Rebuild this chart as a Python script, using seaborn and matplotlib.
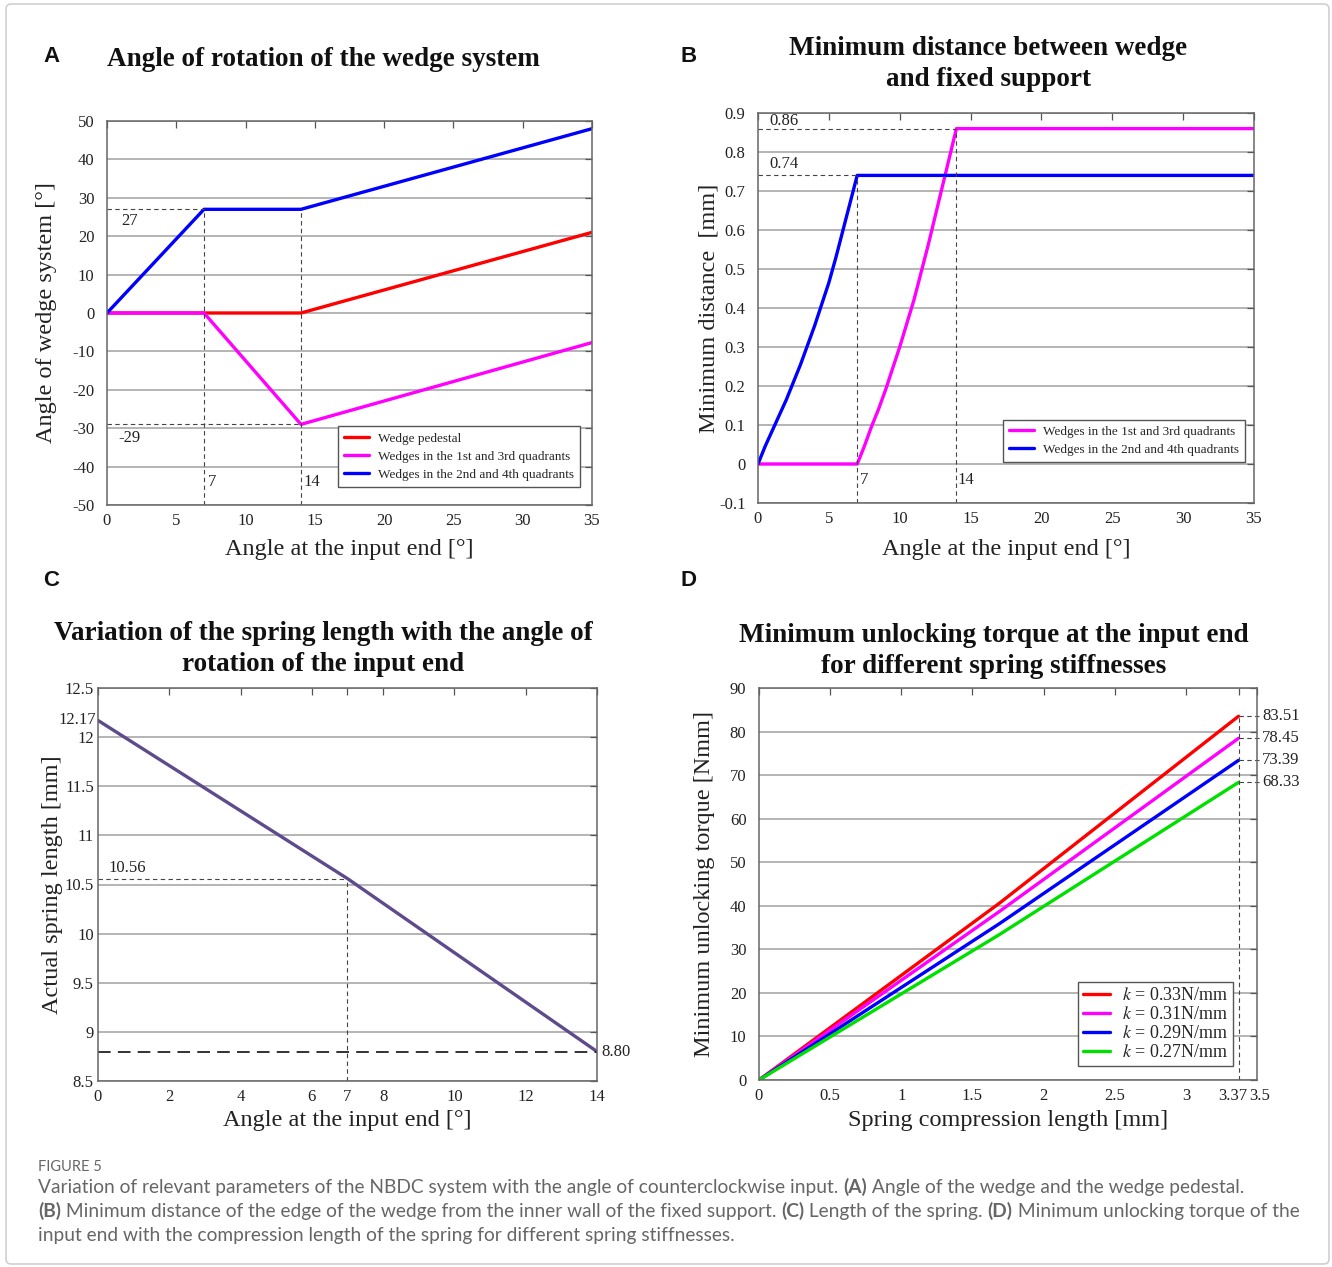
import numpy as np
import pandas as pd
import matplotlib
matplotlib.use("Agg")
import matplotlib.pyplot as plt
import seaborn as sns
from matplotlib.patches import FancyBboxPatch

# ---------------- data ----------------
a_x = [0, 7, 14, 35]
a_pedestal = [0, 0, 0, 21]
a_q13 = [0, 0, -29, -7.7]
a_q24 = [0, 27, 27, 48]
a_names = ["Wedge pedestal", "Wedges in the 1st and 3rd quadrants",
           "Wedges in the 2nd and 4th quadrants"]

b_q13_x = [0, 7, 7.5, 8, 8.5, 9, 9.5, 10, 10.5, 11, 11.5, 12, 12.5, 13, 13.5, 14, 35]
b_q13_y = [0, 0, 0.045, 0.095, 0.14, 0.19, 0.245, 0.30, 0.36, 0.42, 0.49, 0.56, 0.635,
           0.71, 0.785, 0.86, 0.86]
b_q24_x = [0, 0.5, 1, 1.5, 2, 2.5, 3, 3.5, 4, 4.5, 5, 5.5, 6, 6.5, 7, 35]
b_q24_y = [0, 0.045, 0.085, 0.125, 0.165, 0.21, 0.255, 0.305, 0.355, 0.41, 0.465, 0.53,
           0.60, 0.67, 0.74, 0.74]
b_names = ["Wedges in the 1st and 3rd quadrants", "Wedges in the 2nd and 4th quadrants"]

c_x = [0, 7, 14]
c_len = [12.17, 10.56, 8.80]

d_x = [0, 1.69, 3.37]
d_k033 = [0, 40.6, 83.51]
d_k031 = [0, 38.7, 78.45]
d_k029 = [0, 35.9, 73.39]
d_k027 = [0, 33.4, 68.33]
d_names = ["$k$ = 0.33N/mm", "$k$ = 0.31N/mm", "$k$ = 0.29N/mm", "$k$ = 0.27N/mm"]
d_end_labels = ["83.51", "78.45", "73.39", "68.33"]

# ---------------- style ----------------
sns.set_theme(style="white")
plt.rcParams["font.family"] = ["Liberation Serif", "DejaVu Serif"]
plt.rcParams["mathtext.fontset"] = "stix"
plt.rcParams["axes.unicode_minus"] = False

W, H = 1332, 1267
fig = plt.figure(figsize=(W / 100, H / 100), dpi=100)
fig.patch.set_facecolor("white")


def fx(px):
    return px / W


def fy(py):
    return 1 - py / H


def make_ax(l, t, r, b):
    return fig.add_axes([fx(l), fy(b), fx(r) - fx(l), (b - t) / H])


def style(ax, xlim, ylim, xticks, yticks, xtl=None, ytl=None, ypad=9):
    ax.set_xlim(*xlim)
    ax.set_ylim(*ylim)
    ax.set_xticks(xticks)
    ax.set_yticks(yticks)
    if xtl is not None:
        ax.set_xticklabels(xtl)
    if ytl is not None:
        ax.set_yticklabels(ytl)
    ax.tick_params(direction="in", top=True, right=True, length=5, width=0.9,
                   color="#555555", labelcolor="#222222", labelsize=12)
    ax.tick_params(axis="x", pad=6)
    ax.tick_params(axis="y", pad=ypad)
    ax.yaxis.grid(True, color="#a0a0a0", lw=1.1)
    ax.xaxis.grid(False)
    ax.set_axisbelow(True)
    for s in ax.spines.values():
        s.set_color("#666666")
        s.set_linewidth(1.1)
    ax.set_facecolor("white")


def labels(ax, xl, yl, xcoord, ycoord):
    ax.set_xlabel(xl, fontsize=lab_fs, color="#222222")
    ax.set_ylabel(yl, fontsize=lab_fs, color="#222222")
    ax.xaxis.set_label_coords(0.5, xcoord)
    ax.yaxis.set_label_coords(ycoord, 0.5)


def legend(ax, right, bottom, fs, spacing, bpad=0.45, hlen=1.9):
    h, l = ax.get_legend_handles_labels()
    lg = ax.legend(h, l, loc="lower right", bbox_to_anchor=(right, bottom), fontsize=fs,
                   frameon=True, fancybox=False, edgecolor=leg_frame, framealpha=1,
                   borderaxespad=0, borderpad=bpad, labelspacing=spacing,
                   handlelength=hlen, handletextpad=0.7)
    lg.get_frame().set_linewidth(1.0)


dash_kw = dict(color="#444444", lw=0.8, ls=(0, (4, 3)))
ann_kw = dict(fontsize=12, color="#222222")
lab_fs = 17.5
title_fs = 19.5
leg_frame = "#555555"
lw_main = 2.4

# ---------------- panel A ----------------
axA = make_ax(107, 121, 592, 505)
dfA = pd.DataFrame({
    "x": a_x * 3,
    "y": a_pedestal + a_q13 + a_q24,
    "series": [a_names[0]] * 4 + [a_names[1]] * 4 + [a_names[2]] * 4,
})
sns.lineplot(data=dfA, x="x", y="y", hue="series", hue_order=a_names,
             palette=["#ff0000", "#ff00ff", "#0000ff"], estimator=None, sort=False,
             lw=lw_main, ax=axA)
style(axA, (0, 35), (-50, 50), range(0, 36, 5), range(-50, 51, 10))
axA.plot([0, 7], [27, 27], **dash_kw)
axA.plot([7, 7], [-50, 27], **dash_kw)
axA.plot([14, 14], [-50, 27], **dash_kw)
axA.plot([0, 14], [-29, -29], **dash_kw)
axA.text(1.0, 24.0, "27", ha="left", va="center", **ann_kw)
axA.text(0.8, -32.5, "-29", ha="left", va="center", **ann_kw)
axA.text(7.3, -44, "7", ha="left", va="center", **ann_kw)
axA.text(14.2, -44, "14", ha="left", va="center", **ann_kw)
legend(axA, 0.975, 0.047, 9.5, 0.45)
labels(axA, "Angle at the input end [°]", "Angle of wedge system [°]", -0.088, -0.103)

# ---------------- panel B ----------------
axB = make_ax(758, 113, 1254, 503)
dfB = pd.DataFrame({
    "x": b_q13_x + b_q24_x,
    "y": b_q13_y + b_q24_y,
    "series": [b_names[0]] * len(b_q13_x) + [b_names[1]] * len(b_q24_x),
})
sns.lineplot(data=dfB, x="x", y="y", hue="series", hue_order=b_names,
             palette=["#ff00ff", "#0000ff"], estimator=None, sort=False, lw=lw_main, ax=axB)
style(axB, (0, 35), (-0.1, 0.9), range(0, 36, 5), np.round(np.arange(-0.1, 0.91, 0.1), 1),
      ytl=["-0.1", "0", "0.1", "0.2", "0.3", "0.4", "0.5", "0.6", "0.7", "0.8", "0.9"])
axB.plot([0, 14], [0.86, 0.86], **dash_kw)
axB.plot([14, 14], [-0.1, 0.86], **dash_kw)
axB.plot([0, 7], [0.74, 0.74], **dash_kw)
axB.plot([7, 7], [-0.1, 0.74], **dash_kw)
axB.text(0.8, 0.88, "0.86", ha="left", va="center", **ann_kw)
axB.text(0.8, 0.768, "0.74", ha="left", va="center", **ann_kw)
axB.text(7.2, -0.04, "7", ha="left", va="center", **ann_kw)
axB.text(14.1, -0.04, "14", ha="left", va="center", **ann_kw)
legend(axB, 0.982, 0.105, 9.5, 0.45)
labels(axB, "Angle at the input end [°]", "Minimum distance  [mm]", -0.092, -0.077)

# ---------------- panel C ----------------
axC = make_ax(98, 688, 597, 1081)
dfC = pd.DataFrame({"x": c_x, "y": c_len})
sns.lineplot(data=dfC, x="x", y="y", color="#5e4b8b", lw=lw_main, estimator=None, sort=False,
             ax=axC)
style(axC, (0, 14), (8.5, 12.5), [0, 2, 4, 6, 7, 8, 10, 12, 14],
      [8.5, 9, 9.5, 10, 10.5, 11, 11.5, 12, 12.5],
      ytl=["8.5", "9", "9.5", "10", "10.5", "11", "11.5", "12", "12.5"], ypad=3)
axC.plot([0, 7], [10.56, 10.56], **dash_kw)
axC.plot([7, 7], [8.5, 10.56], **dash_kw)
axC.plot([0, 14], [8.80, 8.80], color="#222222", lw=1.3, ls=(0, (7, 4)))
axC.text(-0.003, 12.17, "12.17", ha="right", va="center", fontsize=12, color="#222222",
         transform=axC.get_yaxis_transform())
axC.text(0.3, 10.67, "10.56", ha="left", va="center", **ann_kw)
axC.text(14.12, 8.80, "8.80", ha="left", va="center", clip_on=False, **ann_kw)
labels(axC, "Angle at the input end [°]", "Actual spring length [mm]", -0.074, -0.07)

# ---------------- panel D ----------------
axD = make_ax(759, 688, 1257, 1080)
d_vals = [d_k033, d_k031, d_k029, d_k027]
dfD = pd.DataFrame({
    "x": d_x * 4,
    "y": sum(d_vals, []),
    "series": sum([[n] * len(d_x) for n in d_names], []),
})
sns.lineplot(data=dfD, x="x", y="y", hue="series", hue_order=d_names,
             palette=["#ff0000", "#ff00ff", "#0000ff", "#00e000"], estimator=None, sort=False,
             lw=lw_main, ax=axD)
style(axD, (0, 3.5), (0, 90), [0, 0.5, 1, 1.5, 2, 2.5, 3, 3.37, 3.5], range(0, 91, 10),
      xtl=["0", "0.5", "1", "1.5", "2", "2.5", "3", "", ""])
xt = axD.get_xaxis_transform()
axD.text(3.432, -0.021, "3.37", ha="right", va="top", fontsize=12, color="#222222",
         transform=xt)
axD.text(3.445, -0.021, "3.5", ha="left", va="top", fontsize=12, color="#222222",
         transform=xt)
axD.plot([d_x[-1], d_x[-1]], [0, d_k033[-1]], **dash_kw)
for vals, txt in zip(d_vals, d_end_labels):
    axD.plot([d_x[-1], 3.52], [vals[-1], vals[-1]], clip_on=False, **dash_kw)
    axD.text(3.535, vals[-1], txt, ha="left", va="center", clip_on=False, **ann_kw)
legend(axD, 0.952, 0.036, 13, 0.12, bpad=0.25, hlen=1.5)
labels(axD, "Spring compression length [mm]", "Minimum unlocking torque [Nmm]", -0.0765, -0.088)

# ---------------- titles & panel letters ----------------
tkw = dict(fontsize=title_fs, fontweight="bold", color="#111111", ha="center", va="center",
           linespacing=1.36)
fig.text(fx(323), fy(60), "Angle of rotation of the wedge system", **tkw)
fig.text(fx(988), fy(64), "Minimum distance between wedge\nand fixed support", **tkw)
fig.text(fx(323), fy(649), "Variation of the spring length with the angle of\nrotation of the input end", **tkw)
fig.text(fx(994), fy(651), "Minimum unlocking torque at the input end\nfor different spring stiffnesses", **tkw)

pkw = dict(fontsize=16, fontweight="bold", family=["Liberation Sans", "DejaVu Sans"],
           color="#111111", ha="left", va="center")
fig.text(fx(43), fy(56), "A", **pkw)
fig.text(fx(680), fy(56), "B", **pkw)
fig.text(fx(43), fy(580), "C", **pkw)
fig.text(fx(680), fy(580), "D", **pkw)

# ---------------- caption ----------------
cap_family = ["Lato", "DejaVu Sans"]
cap_col = "#666666"
fig.text(fx(38), fy(1167), "FIGURE 5", fontsize=10.5, family=cap_family, color=cap_col,
         ha="left", va="center")

renderer = fig.canvas.get_renderer()


def rich_line(x_px, y_px, pieces, size=13.8):
    x = x_px
    for txt, bold in pieces:
        t = fig.text(fx(x), fy(y_px), txt, fontsize=size, family=cap_family, color=cap_col,
                     fontweight="bold" if bold else "normal", ha="left", va="center")
        bb = t.get_window_extent(renderer=renderer)
        x += bb.width


rich_line(38, 1187, [("Variation of relevant parameters of the NBDC system with the angle of "
                      "counterclockwise input. ", False), ("(A)", True),
                     (" Angle of the wedge and the wedge pedestal.", False)])
rich_line(38, 1211, [("(B)", True), (" Minimum distance of the edge of the wedge from the inner "
                                      "wall of the fixed support. ", False), ("(C)", True),
                     (" Length of the spring. ", False), ("(D)", True),
                     (" Minimum unlocking torque of the", False)])
rich_line(38, 1235, [("input end with the compression length of the spring for different "
                      "spring stiffnesses.", False)])

# ---------------- frame ----------------
frame = FancyBboxPatch((fx(6), fy(1264)), fx(1329) - fx(6), fy(4) - fy(1264),
                       boxstyle="round,pad=0,rounding_size=0.004", transform=fig.transFigure,
                       fill=False, edgecolor="#cfcfcf", lw=1.2)
fig.patches.append(frame)

fig.savefig("out.png", dpi=100, facecolor="white")
